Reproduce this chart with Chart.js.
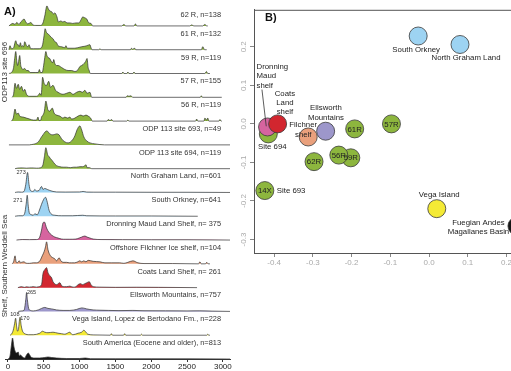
<!DOCTYPE html>
<html>
<head>
<meta charset="utf-8">
<script src="https://cdn.jsdelivr.net/npm/chart.js@4.4.1/dist/chart.umd.min.js"></script>
<style>
  html, body { margin: 0; padding: 0; background: #fff; overflow: hidden; width: 511px; height: 371px; }
  #ridges { position: absolute; left: 0; top: 0; }
  #mds { position: absolute; left: 235px; top: 0; }
</style>
</head>
<body>
<canvas id="ridges" width="236" height="371"></canvas>
<canvas id="mds" width="320" height="371"></canvas>
<script>
// ---- A) detrital zircon age spectra, [age Ma, relative density] ----
const ridgeNames = [
  '62 R, n=138', '61 R, n=132', '59 R, n=119', '57 R, n=155', '56 R, n=119',
  'ODP 113 site 693, n=49', 'ODP 113 site 694, n=119',
  'North Graham Land, n=601', 'South Orkney, n=641',
  'Dronning Maud Land Shelf, n= 375', 'Offshore Filchner Ice shelf, n=104',
  'Coats Land Shelf, n= 261', 'Ellsworth Mountains, n=757',
  'Vega Island, Lopez de Bertodano Fm., n=228', 'South America (Eocene and older), n=813'
];
const ageTicks = [0, 500, 1000, 1500, 2000, 2500, 3000];

const r62 = [[15,0],[40,1.5],[70,2.5],[100,1.5],[125,3.5],[155,1.5],[180,4],[210,6],[225,7],[250,4],[280,2],[320,3.5],[350,1],[390,0.5],[460,0.5],[490,3],[515,10],[545,20],[565,17],[585,15],[615,14],[635,12],[655,13],[685,9],[705,4],[740,5],[765,4],[795,4.5],[825,3],[865,3],[905,2.5],[950,3],[990,3],[1020,6],[1045,9],[1075,8],[1100,7],[1130,3],[1160,2.5],[1185,0],[1590,0],[1620,1.5],[1645,0],[1760,0],[1780,2],[1800,0],[2540,0],[2565,1],[2595,0],[2720,0],[2750,1.5],[2775,0],[2790,0]];
const r61 = [[15,0],[30,4],[50,1],[80,2],[110,9],[130,5],[145,5],[160,3],[175,7],[190,3],[205,4],[220,3],[235,8],[260,4],[280,3],[295,5],[320,1],[360,1],[420,1],[460,1.5],[485,5],[505,14],[520,21],[540,17],[560,16],[585,14],[610,12],[630,11],[655,8],[680,7],[700,4],[750,3],[795,2],[810,4],[830,1.5],[880,1.5],[925,1.5],[975,2],[1030,3],[1075,3.5],[1100,4],[1145,5],[1160,2],[1175,0],[1270,0],[1285,1],[1300,0],[1710,0],[1725,1.5],[1740,0.5],[1770,1.5],[1785,0],[2700,0],[2720,3],[2745,0],[2775,0]];
const r59 = [[15,0],[50,1],[80,6],[95,15],[110,22],[125,12],[135,8],[150,12],[165,18],[180,8],[190,6],[210,4],[235,5],[260,3],[285,3],[310,1],[380,1],[425,1],[440,4],[455,1],[480,1],[495,6],[515,16],[530,22],[545,18],[560,16],[585,15],[605,12],[630,11],[640,14],[655,10],[680,8],[700,8],[750,6],[795,4],[840,3],[890,3],[935,2],[970,3],[1005,7],[1030,8],[1050,9],[1085,12],[1105,15],[1120,6],[1135,3],[1150,0],[1590,0],[1605,1.5],[1620,0],[1660,0],[1675,1.5],[1690,0],[1745,0],[1760,1.5],[1775,0],[2750,0],[2770,2],[2790,0],[2820,0]];
const r57 = [[60,0],[80,3],[100,14],[120,9],[145,13],[165,8],[190,11],[215,6],[235,8],[260,3],[300,1],[400,1],[425,2],[445,4],[465,2],[485,20],[505,14],[540,12],[570,16],[595,10],[630,12],[665,7],[700,5],[770,3],[820,4],[865,5],[910,3],[960,5],[1005,6],[1040,5],[1075,7],[1105,4],[1145,5],[1170,0],[1650,0],[1665,1.5],[1690,1],[1720,1.5],[1740,0],[2685,0],[2700,1.5],[2715,0],[2985,0]];
const r56 = [[50,0],[75,3],[100,12],[120,7],[145,8],[165,5],[215,4],[260,3],[305,2],[355,1],[400,1],[420,4],[435,0.5],[460,1],[470,4],[490,6],[510,10],[530,20],[560,11],[585,10],[620,13],[645,8],[680,6],[725,5],[770,3],[795,4],[835,3],[865,4],[890,2],[935,3],[980,5],[1020,6],[1050,5],[1090,6],[1120,5],[1155,3],[1180,0],[1385,0],[1400,1.5],[1425,0.5],[1450,1.5],[1465,0],[1660,0],[1675,1],[1690,0],[2620,0],[2635,2],[2650,0],[2735,0],[2750,3],[2770,1],[2790,3],[2805,0],[2945,0],[2960,1.5],[2975,0],[2985,0]];
const s693 = [[15,0],[300,0],[330,0.3],[375,1],[425,3],[470,8],[490,10],[520,13],[545,14],[585,11],[630,10],[680,11],[715,10],[750,6],[795,3],[840,2],[890,4],[935,9],[965,15],[1005,19],[1030,15],[1060,8],[1100,4],[1145,2],[1215,1],[1285,0.3],[1350,0],[3100,0]];
const s694 = [[100,0],[130,0.5],[200,0.8],[260,0.5],[330,0.8],[400,0.5],[460,1],[490,4],[510,12],[530,21],[555,14],[575,12],[595,10],[620,8],[640,6],[680,3],[725,2],[770,1.5],[820,1.5],[870,1],[920,1.5],[960,1.5],[1005,2],[1045,2],[1075,3],[1090,4],[1105,1],[1140,1],[1170,0],[3100,0]];
const northGraham = [[100,0],[145,0.5],[190,0.3],[225,1],[250,8],[275,20],[295,8],[315,2],[355,1],[375,3],[400,1.5],[435,2],[470,6],[490,3],[515,4],[550,3],[585,2],[630,1],[680,0.5],[800,0.4],[1000,0.5],[1050,1],[1100,0.4],[1200,0.3],[1500,0.3],[2000,0.2],[2500,0.2],[3100,0]];
const southOrkney = [[100,0],[150,0.5],[200,0.5],[235,3],[255,12],[270,21],[285,10],[300,3],[315,2],[355,1],[375,2.5],[410,1.5],[435,5],[470,12],[500,17],[525,19],[550,14],[575,6],[610,2],[655,1],[750,0.5],[900,0.5],[1045,1],[1100,0.5],[1500,0.3],[2000,0.3],[2650,0]];
const dronningMaud = [[120,0],[200,0.5],[300,0.4],[400,0.5],[425,1],[445,3],[470,10],[490,17],[510,18],[540,12],[570,8],[610,5],[655,3],[700,2],[750,1],[800,0.8],[865,0.8],[950,1],[995,2],[1030,3],[1075,4],[1105,3],[1145,2],[1190,1],[1300,0.5],[1600,0.4],[2000,0.3],[2500,0.3],[3100,0]];
const filchner = [[60,0],[80,2],[100,8],[115,2],[130,1],[160,3],[175,1],[190,1.5],[225,2],[245,1],[270,0.5],[305,0.5],[355,1],[400,1],[435,2],[455,4],[480,8],[505,12],[525,17],[540,22],[560,14],[595,8],[630,6],[655,5],[680,3],[715,6],[740,3],[770,1.5],[820,1.5],[860,1],[890,1],[930,1],[975,2],[1005,3],[1030,2],[1060,3],[1090,2],[1120,3.5],[1190,2.5],[1285,2],[1355,1],[1450,1],[1560,1],[1620,0.5],[1675,1.5],[1745,3],[1815,1],[1900,0.3],[2300,0.3],[2660,0],[2680,2],[2700,0],[2760,0],[2775,1.5],[2795,0],[2820,0]];
const coatsLand = [[140,0],[190,1],[230,0.3],[260,0.8],[300,0.5],[355,1],[400,0.5],[425,0.8],[470,3],[490,14],[515,18],[540,20],[560,15],[585,12],[610,10],[630,6],[680,3],[725,5],[750,2],[790,1],[820,1],[865,1.5],[910,0.5],[950,1],[980,3],[1015,4],[1040,3],[1075,4],[1105,5],[1135,6],[1160,3],[1190,1],[1285,0.5],[1500,0.3],[1800,0.4],[2100,0.3],[2640,0]];
const ellsworth = [[145,0],[195,0.5],[225,1],[240,6],[250,12],[262,19],[272,12],[290,3],[315,1],[355,0.5],[425,1.5],[470,3],[515,4],[560,3],[610,2.5],[680,1.5],[770,1],[865,1],[960,2],[1030,3.5],[1075,3],[1100,2.5],[1190,1.5],[1285,1.2],[1400,1],[1550,0.8],[1745,1],[1900,0.7],[2200,0.6],[2500,0.5],[2680,0.6],[2850,0.3],[3100,0]];
const vegaIsland = [[30,0],[50,1],[75,5],[95,12],[108,17],[122,9],[135,4],[150,7],[160,14],[170,18],[185,10],[205,4],[225,2],[250,1],[285,0.5],[355,0.5],[445,2],[485,4],[515,3],[560,2.5],[630,3],[700,2],[750,1.5],[795,1],[865,3],[890,1],[910,0.5],[980,2],[1030,3],[1060,5],[1090,3],[1115,1],[1200,0.3],[1430,0],[1445,1.5],[1460,0],[1615,0],[1630,1.5],[1645,0],[1850,0],[1865,1],[1880,0],[2775,0],[2790,1],[2805,0],[2820,0]];
const southAmerica = [[5,0],[30,3],[50,14],[65,21],[85,12],[100,8],[120,6],[145,7],[160,3],[175,4],[205,2],[235,1],[260,4],[285,6],[305,4],[330,1.5],[375,1],[445,1],[515,1.5],[560,2],[610,1.5],[680,1],[820,0.5],[1000,0.5],[1080,1],[1150,0.3],[1500,0.2],[2000,0.2],[3100,0]];

const ridgeSeries = [r62, r61, r59, r57, r56, s693, s694, northGraham, southOrkney,
  dronningMaud, filchner, coatsLand, ellsworth, vegaIsland, southAmerica];

// peak ages written on the spectra: [row, age, density, text]
const peakNotes = [[7, 185, 19.5, '273'], [8, 140, 16, '271'], [12, 330, 19, '265'], [13, 98, 21, '108'], [13, 237, 16.5, '170']];

// ---- B) MDS map ----
const mdsNames = ['South Orkney', 'North Graham Land', '14X', 'Site 694', 'Dronning Maud shelf',
  'Coats Land shelf', 'Ellsworth Mountains', 'Filchner shelf', '61R', '57R', '62R', '59R', '56R',
  'Vega Island', 'Fuegian Andes Magallanes Basin'];
const mdsX = [-0.028, 0.080, -0.424, -0.415, -0.417, -0.391, -0.267, -0.312, -0.192, -0.097, -0.297, -0.202, -0.233, 0.020, 0.227];
const mdsY = [0.228, 0.206, -0.173, -0.026, -0.008, 0.000, -0.019, -0.034, -0.013, 0.000, -0.098, -0.088, -0.081, -0.220, -0.265];
const mdsXTicks = [-0.4, -0.3, -0.2, -0.1, 0.0, 0.1, 0.2];
const mdsYTicks = [-0.3, -0.2, -0.1, 0.0, 0.1, 0.2];

// ---- styling ----
const GREEN = '#8db63e', BLUE = '#9dd3f2', PINK = '#d6649f', SALMON = '#e9a07c',
      RED = '#d2262f', PURPLE = '#9d97cb', YELLOW = '#f4ea35', BLACK = '#151515';
const ridgeColors = [GREEN, GREEN, GREEN, GREEN, GREEN, GREEN, GREEN, BLUE, BLUE, PINK, SALMON, RED, PURPLE, YELLOW, BLACK];
const mdsColors = [BLUE, BLUE, GREEN, GREEN, PINK, RED, PURPLE, SALMON, GREEN, GREEN, GREEN, GREEN, GREEN, YELLOW, BLACK];
const FONT = '"Liberation Sans", Arial, sans-serif';
const densityScale = 1 / 23.8;
const nRows = ridgeSeries.length;
const rowBase = i => nRows - 1 - i;

const ridgeText = {
  id: 'ridgeText',
  afterDatasetsDraw(chart) {
    const { ctx, scales: { x, y } } = chart;
    ctx.save();
    ctx.fillStyle = '#333';
    ctx.font = '7.4px ' + FONT;
    ctx.textAlign = 'right';
    ctx.textBaseline = 'middle';
    ridgeNames.forEach((name, i) => {
      const yb = y.getPixelForValue(rowBase(i));
      ctx.fillText(name, 221, yb - (i === 0 ? 11 : 16));
    });
    ctx.font = '5.5px ' + FONT;
    ctx.textAlign = 'center';
    peakNotes.forEach(([row, age, d, txt]) => {
      ctx.fillText(txt, x.getPixelForValue(age), y.getPixelForValue(rowBase(row) + d * densityScale));
    });
    ctx.font = 'bold 11px ' + FONT;
    ctx.textAlign = 'left';
    ctx.fillStyle = '#111';
    ctx.fillText('A)', 4, 12);
    ctx.fillStyle = '#333';
    ctx.font = '8px ' + FONT;
    ctx.textAlign = 'center';
    [['ODP113 site 696', 72], ['Shelf, Southern Weddell Sea', 266]].forEach(([t, cy]) => {
      ctx.save();
      ctx.translate(4.5, cy);
      ctx.rotate(-Math.PI / 2);
      ctx.fillText(t, 0, 0);
      ctx.restore();
    });
    ctx.restore();
  }
};

new Chart(document.getElementById('ridges'), {
  type: 'line',
  data: {
    datasets: ridgeSeries.map((pts, i) => ({
      label: ridgeNames[i],
      data: pts.map(([a, d]) => ({ x: a, y: rowBase(i) + d * densityScale })),
      fill: { value: rowBase(i) },
      backgroundColor: ridgeColors[i],
      borderColor: '#2e2e2e',
      borderWidth: 0.7,
      pointRadius: 0,
      cubicInterpolationMode: 'monotone',
      order: nRows - 1 - i
    }))
  },
  options: {
    responsive: false,
    animation: false,
    layout: { padding: { left: 5, right: 6, top: 0, bottom: 0 } },
    plugins: { legend: { display: false }, tooltip: { enabled: false } },
    scales: {
      x: {
        type: 'linear', min: -40, max: 3100,
        afterBuildTicks: s => { s.ticks = ageTicks.map(v => ({ value: v })); },
        afterFit: s => { s.height = 12; },
        grid: { display: true, drawOnChartArea: false, drawTicks: true, tickLength: 3, color: '#333' },
        border: { display: true, color: '#333', width: 1 },
        ticks: { color: '#222', padding: 0, maxRotation: 0, autoSkip: false, font: { size: 8, family: FONT }, callback: v => String(v) }
      },
      y: { display: false, min: 0, max: 15.09 }
    }
  },
  plugins: [ridgeText]
});

// label placement for the MDS map (pixel offsets from each point)
const mdsLabelStyle = {
  'South Orkney': { lines: ['South Orkney'], dx: -2, dy: 14.3 },
  'North Graham Land': { lines: ['North Graham Land'], dx: 6, dy: 13.7 },
  '14X': { inside: '14X', lines: ['Site 693'], dx: 12, dy: 0, align: 'left' },
  'Site 694': { lines: ['Site 694'], dx: 4, dy: 13.3 },
  'Dronning Maud shelf': { lines: ['Dronning', 'Maud', 'shelf'], dx: -11, dy: -60, step: 9.2, align: 'left', leader: [-5.6, -37.4, -1.3, -0.7] },
  'Coats Land shelf': { lines: ['Coats', 'Land', 'shelf'], dx: 7.3, dy: -30, step: 9.2 },
  'Ellsworth Mountains': { lines: ['Ellsworth', 'Mountains'], dx: 0.3, dy: -23.3, step: 9.6 },
  'Filchner shelf': { lines: ['Filchner', 'shelf'], dx: -5, dy: -12.4, step: 10 },
  '61R': { inside: '61R' }, '57R': { inside: '57R' }, '62R': { inside: '62R' },
  '59R': { inside: '59R' }, '56R': { inside: '56R' },
  'Vega Island': { lines: ['Vega Island'], dx: 2.4, dy: -14 },
  'Fuegian Andes Magallanes Basin': { lines: ['Fuegian Andes', 'Magallanes Basin'], dx: -38.5, dy: -3.4, step: 9.4 }
};

const mdsText = {
  id: 'mdsText',
  afterDatasetsDraw(chart) {
    const { ctx, chartArea: ca, scales: { x, y } } = chart;
    ctx.save();
    ctx.strokeStyle = '#555';
    ctx.lineWidth = 1;
    ctx.strokeRect(ca.left + 0.5, ca.top + 0.5, ca.right - ca.left, ca.bottom - ca.top);
    // rotated y tick labels
    ctx.fillStyle = '#aaa';
    ctx.font = '8px ' + FONT;
    ctx.textAlign = 'center';
    ctx.textBaseline = 'middle';
    mdsYTicks.forEach(v => {
      ctx.save();
      ctx.translate(9, y.getPixelForValue(v));
      ctx.rotate(-Math.PI / 2);
      ctx.fillText(v.toFixed(1), 0, 0);
      ctx.restore();
    });
    ctx.fillStyle = '#222';
    ctx.font = '7.8px ' + FONT;
    mdsNames.forEach((name, i) => {
      const st = mdsLabelStyle[name];
      const px = x.getPixelForValue(mdsX[i]), py = y.getPixelForValue(mdsY[i]);
      if (st.inside) {
        ctx.textAlign = 'center';
        ctx.fillText(st.inside, px, py + 0.5);
      }
      if (st.lines) {
        ctx.textAlign = st.align || 'center';
        st.lines.forEach((t, k) => ctx.fillText(t, px + st.dx, py + st.dy + k * (st.step || 9)));
      }
      if (st.leader) {
        const [x0, y0, x1, y1] = st.leader;
        ctx.strokeStyle = '#333';
        ctx.lineWidth = 0.8;
        ctx.beginPath();
        ctx.moveTo(px + x0, py + y0);
        ctx.lineTo(px + x1, py + y1);
        ctx.stroke();
      }
    });
    ctx.fillStyle = '#111';
    ctx.font = 'bold 11px ' + FONT;
    ctx.textAlign = 'left';
    ctx.fillText('B)', 30, 18);
    ctx.restore();
  }
};

new Chart(document.getElementById('mds'), {
  type: 'scatter',
  data: {
    datasets: [{
      data: mdsX.map((v, i) => ({ x: v, y: mdsY[i] })),
      backgroundColor: mdsColors,
      borderColor: '#3a3a3a',
      borderWidth: 0.8,
      pointRadius: 9,
      pointHoverRadius: 9
    }]
  },
  options: {
    responsive: false,
    animation: false,
    layout: { padding: { left: 0, right: 8.5, top: 7, bottom: 98 } },
    plugins: { legend: { display: false }, tooltip: { enabled: false } },
    scales: {
      x: {
        type: 'linear', min: -0.452, max: 0.3,
        afterBuildTicks: s => { s.ticks = mdsXTicks.map(v => ({ value: v })); },
        afterFit: s => { s.height = 20; },
        grid: { display: true, drawOnChartArea: false, drawTicks: true, tickLength: 4, color: '#888' },
        border: { display: true, color: '#555' },
        ticks: { color: '#aaa', padding: 1, maxRotation: 0, autoSkip: false, font: { size: 8, family: FONT }, callback: v => v.toFixed(1) }
      },
      y: {
        type: 'linear', min: -0.335, max: 0.296,
        afterBuildTicks: s => { s.ticks = mdsYTicks.map(v => ({ value: v })); },
        afterFit: s => { s.width = 19; },
        grid: { display: true, drawOnChartArea: false, drawTicks: true, tickLength: 4, color: '#888' },
        border: { display: true, color: '#555' },
        ticks: { display: false }
      }
    }
  },
  plugins: [mdsText]
});
</script>
</body>
</html>
